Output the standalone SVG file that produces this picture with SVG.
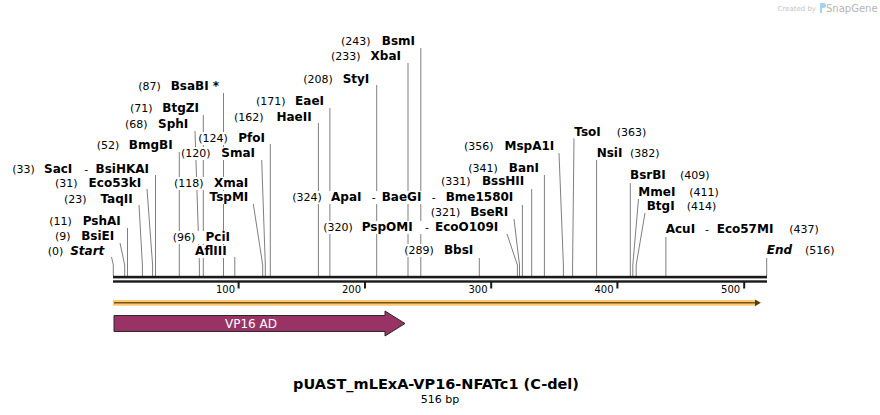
<svg xmlns="http://www.w3.org/2000/svg" width="880" height="415" viewBox="0 0 880 415">
<style>
text{font-family:"DejaVu Sans","Liberation Sans",sans-serif;fill:#000}
.n{font-size:11px}
.e{font-size:12px;font-weight:bold}
.i{font-size:12px;font-weight:bold;font-style:italic}
.t{font-size:10px}
.l{fill:none;stroke:#7f7f7f;stroke-width:1}
.bg{fill:#fff}
</style>
<rect width="880" height="415" fill="#fff"/>
<g id="watermark">
<text x="816" y="11" font-size="7" style="fill:#c4c4c4" text-anchor="end">Created by</text>
<path d="M820,3 h3.5 a2.5,2.5 0 0 1 0,5 h-1.5 v5 h-2 z" fill="#9fd3ee"/>
<text x="826" y="12" font-size="10" style="fill:#b5b5b5">SnapGene</text>
</g>
<g id="connectors">
<polyline class="l" points="111.5,257 113.3,265 113.3,276"/>
<polyline class="l" points="120,243 124.7,265 124.7,276"/>
<polyline class="l" points="127.5,228 127.5,276"/>
<polyline class="l" points="139,205 142.4,265 142.4,276"/>
<polyline class="l" points="147,189 152.6,265 152.6,276"/>
<polyline class="l" points="155.5,175 155.5,276"/>
<polyline class="l" points="179.3,152 179.3,276"/>
<polyline class="l" points="195,131 199.4,265 199.4,276"/>
<polyline class="l" points="203.3,115 203.3,276"/>
<polyline class="l" points="223.5,93 223.5,276"/>
<polyline class="l" points="234.8,257 234.8,276"/>
<polyline class="l" points="253.3,204 262.7,265 262.7,276"/>
<polyline class="l" points="261.7,160 265.3,265 265.3,276"/>
<polyline class="l" points="270.3,144 270.3,276"/>
<polyline class="l" points="318.4,123 318.4,276"/>
<polyline class="l" points="329.9,108 329.9,276"/>
<polyline class="l" points="376.7,85 376.7,276"/>
<polyline class="l" points="408,63 408,276"/>
<polyline class="l" points="420.8,48 420.8,276"/>
<polyline class="l" points="479.3,258 479.3,276"/>
<polyline class="l" points="507,234 517.4,265 517.4,276"/>
<polyline class="l" points="514,219 519.5,265 519.5,276"/>
<polyline class="l" points="522.4,205 522.4,276"/>
<polyline class="l" points="531.7,189 531.7,276"/>
<polyline class="l" points="544.4,175 544.4,276"/>
<polyline class="l" points="559,153 563.4,265 563.4,276"/>
<polyline class="l" points="574,138 572.6,265 572.6,276"/>
<polyline class="l" points="596.6,160 596.6,276"/>
<polyline class="l" points="630.3,183 630.3,276"/>
<polyline class="l" points="638.5,199 632.8,265 632.8,276"/>
<polyline class="l" points="645,213 636.2,265 636.2,276"/>
<polyline class="l" points="665.9,237 665.9,276"/>
<polyline class="l" points="766.7,258 766.7,276"/>
</g>
<g id="backbone">
<rect x="113" y="275.8" width="654" height="2.6" fill="#1a1a1a"/>
<rect x="113" y="280.3" width="654" height="2.4" fill="#1a1a1a"/>
<rect x="237.6" y="282" width="2" height="6.5" fill="#1a1a1a"/>
<rect x="364" y="282" width="2" height="6.5" fill="#1a1a1a"/>
<rect x="490.2" y="282" width="2" height="6.5" fill="#1a1a1a"/>
<rect x="616.4" y="282" width="2" height="6.5" fill="#1a1a1a"/>
<rect x="743.2" y="282" width="2" height="6.5" fill="#1a1a1a"/>
<text class="t" x="235" y="292.5" text-anchor="end">100</text>
<text class="t" x="361" y="292.5" text-anchor="end">200</text>
<text class="t" x="487.5" y="292.5" text-anchor="end">300</text>
<text class="t" x="613.5" y="292.5" text-anchor="end">400</text>
<text class="t" x="740.2" y="292.5" text-anchor="end">500</text>
</g>
<g id="orf">
<path d="M113,300 H755 L762,302.8 L755,305.7 H113 Z" fill="#fcc870"/>
<path d="M114,302 H756 V303.6 H114 Z" fill="#7a5418"/>
<path d="M755,299.5 L760.5,302.8 L755,306.2 Z" fill="#4d3a1a"/>
</g>
<g id="vp16">
<path d="M114,315.5 H385 V311 L405,323.5 L385,336 V331.5 H114 Z" fill="#993366" stroke="#2a2a2a" stroke-width="1"/>
<text x="251" y="328" font-size="12" text-anchor="middle" style="fill:#fff">VP16 AD</text>
</g>
<g id="site-start"><rect class="bg" x="46" y="245" width="61" height="13"/><text class="n" x="47.7" y="255">(0)</text><text class="i" x="104.3" y="255" text-anchor="end">Start</text></g>
<g id="site-BsiEI"><rect class="bg" x="54" y="230" width="62" height="13"/><text class="n" x="55" y="240">(9)</text><text class="e" x="114.3" y="240" text-anchor="end">BsiEI</text></g>
<g id="site-PshAI"><rect class="bg" x="48" y="215" width="74" height="13"/><text class="n" x="49.3" y="225">(11)</text><text class="e" x="120.7" y="225" text-anchor="end">PshAI</text></g>
<g id="site-TaqII"><rect class="bg" x="63" y="193" width="71" height="13"/><text class="n" x="64" y="202.7">(23)</text><text class="e" x="132.7" y="202.7" text-anchor="end">TaqII</text></g>
<g id="site-Eco53kI"><rect class="bg" x="54" y="177" width="88" height="13"/><text class="n" x="55" y="186.7">(31)</text><text class="e" x="141.3" y="186.7" text-anchor="end">Eco53kI</text></g>
<g id="site-SacI"><rect class="bg" x="11" y="163" width="139" height="13"/><text class="n" x="12.3" y="172.7">(33)</text><text class="e" x="44" y="172.7">SacI</text><text class="n" x="84.3" y="172.7">-</text><text class="e" x="149" y="172.7" text-anchor="end">BsiHKAI</text></g>
<g id="site-BmgBI"><rect class="bg" x="95" y="139" width="79" height="13"/><text class="n" x="96.7" y="149">(52)</text><text class="e" x="172.7" y="149" text-anchor="end">BmgBI</text></g>
<g id="site-SphI"><rect class="bg" x="124" y="118" width="65" height="13"/><text class="n" x="125" y="127.7">(68)</text><text class="e" x="188.3" y="127.7" text-anchor="end">SphI</text></g>
<g id="site-BtgZI"><rect class="bg" x="129" y="102" width="71" height="13"/><text class="n" x="130" y="111.7">(71)</text><text class="e" x="199" y="111.7" text-anchor="end">BtgZI</text></g>
<g id="site-BsaBI"><rect class="bg" x="137" y="80" width="82" height="13"/><text class="n" x="138.3" y="90">(87)</text><text class="e" x="170.7" y="90">BsaBI *</text></g>
<g id="site-PciI"><rect class="bg" x="171" y="231" width="60" height="13"/><rect class="bg" x="188" y="245" width="40" height="13"/><text class="n" x="172.7" y="241">(96)</text><text class="e" x="230" y="241" text-anchor="end">PciI</text><text class="e" x="226.7" y="255" text-anchor="end">AflIII</text></g>
<g id="site-XmaI"><rect class="bg" x="173" y="177" width="76" height="13"/><rect class="bg" x="206" y="191" width="43" height="13"/><text class="n" x="174" y="186.7">(118)</text><text class="e" x="248.3" y="186.7" text-anchor="end">XmaI</text><text class="e" x="248.3" y="201" text-anchor="end">TspMI</text></g>
<g id="site-SmaI"><rect class="bg" x="180" y="147" width="76" height="13"/><text class="n" x="181" y="156.7">(120)</text><text class="e" x="255" y="156.7" text-anchor="end">SmaI</text></g>
<g id="site-PfoI"><rect class="bg" x="197" y="132" width="69" height="13"/><text class="n" x="198.3" y="141.7">(124)</text><text class="e" x="265" y="141.7" text-anchor="end">PfoI</text></g>
<g id="site-HaeII"><rect class="bg" x="233" y="111" width="80" height="13"/><text class="n" x="234" y="120.7">(162)</text><text class="e" x="311.7" y="120.7" text-anchor="end">HaeII</text></g>
<g id="site-EaeI"><rect class="bg" x="255" y="95" width="70" height="13"/><text class="n" x="256" y="105">(171)</text><text class="e" x="324" y="105" text-anchor="end">EaeI</text></g>
<g id="site-StyI"><rect class="bg" x="302" y="73" width="68" height="13"/><text class="n" x="303.3" y="82.7">(208)</text><text class="e" x="369.3" y="82.7" text-anchor="end">StyI</text></g>
<g id="site-XbaI"><rect class="bg" x="330" y="50" width="72" height="13"/><text class="n" x="331" y="60">(233)</text><text class="e" x="401" y="60" text-anchor="end">XbaI</text></g>
<g id="site-BsmI"><rect class="bg" x="340" y="35" width="76" height="13"/><text class="n" x="341" y="45">(243)</text><text class="e" x="415" y="45" text-anchor="end">BsmI</text></g>
<g id="site-BbsI"><rect class="bg" x="403" y="244" width="71" height="13"/><text class="n" x="404.3" y="254">(289)</text><text class="e" x="473.3" y="254" text-anchor="end">BbsI</text></g>
<g id="site-PspOMI"><rect class="bg" x="322" y="221" width="177" height="13"/><text class="n" x="323.3" y="231">(320)</text><text class="e" x="361.7" y="231">PspOMI</text><text class="n" x="425" y="231">-</text><text class="e" x="498.3" y="231" text-anchor="end">EcoO109I</text></g>
<g id="site-BseRI"><rect class="bg" x="429" y="206" width="80" height="13"/><text class="n" x="430.7" y="216">(321)</text><text class="e" x="508.3" y="216" text-anchor="end">BseRI</text></g>
<g id="site-ApaI"><rect class="bg" x="291" y="191" width="223" height="13"/><text class="n" x="292.3" y="200.7">(324)</text><text class="e" x="331" y="200.7">ApaI</text><text class="n" x="371.7" y="200.7">-</text><text class="e" x="381.7" y="200.7">BaeGI</text><text class="n" x="431.7" y="200.7">-</text><text class="e" x="513.3" y="200.7" text-anchor="end">Bme1580I</text></g>
<g id="site-BssHII"><rect class="bg" x="440" y="175" width="85" height="13"/><text class="n" x="441" y="185">(331)</text><text class="e" x="524.3" y="185" text-anchor="end">BssHII</text></g>
<g id="site-BanI"><rect class="bg" x="467" y="162" width="73" height="13"/><text class="n" x="468.3" y="172.3">(341)</text><text class="e" x="539" y="172.3" text-anchor="end">BanI</text></g>
<g id="site-MspA1I"><rect class="bg" x="463" y="140" width="92" height="13"/><text class="n" x="464" y="150">(356)</text><text class="e" x="554.3" y="150" text-anchor="end">MspA1I</text></g>
<g id="site-TsoI"><rect class="bg" x="574" y="126" width="73" height="13"/><text class="e" x="574.3" y="136">TsoI</text><text class="n" x="616.7" y="136">(363)</text></g>
<g id="site-NsiI"><rect class="bg" x="596" y="147" width="64" height="13"/><text class="e" x="596.7" y="156.7">NsiI</text><text class="n" x="630" y="156.7">(382)</text></g>
<g id="site-BsrBI"><rect class="bg" x="629" y="169" width="83" height="13"/><text class="e" x="630" y="179.3">BsrBI</text><text class="n" x="680" y="179.3">(409)</text></g>
<g id="site-MmeI"><rect class="bg" x="638" y="186" width="83" height="13"/><text class="e" x="638.3" y="195.7">MmeI</text><text class="n" x="689.3" y="195.7">(411)</text></g>
<g id="site-BtgI"><rect class="bg" x="646" y="200" width="73" height="13"/><text class="e" x="646.7" y="210">BtgI</text><text class="n" x="686.7" y="210">(414)</text></g>
<g id="site-AcuI"><rect class="bg" x="665" y="223" width="157" height="13"/><text class="e" x="665.7" y="233.3">AcuI</text><text class="n" x="705" y="233.3">-</text><text class="e" x="716.7" y="233.3">Eco57MI</text><text class="n" x="789.3" y="233.3">(437)</text></g>
<g id="site-end"><rect class="bg" x="766" y="244" width="72" height="13"/><text class="i" x="766.7" y="254">End</text><text class="n" x="805" y="254">(516)</text></g>
<g id="title">
<text x="436" y="388.5" font-size="14.5" font-weight="bold" text-anchor="middle">pUAST_mLExA-VP16-NFATc1 (C-del)</text>
<text x="440" y="403" font-size="11" text-anchor="middle">516 bp</text>
</g>
</svg>
